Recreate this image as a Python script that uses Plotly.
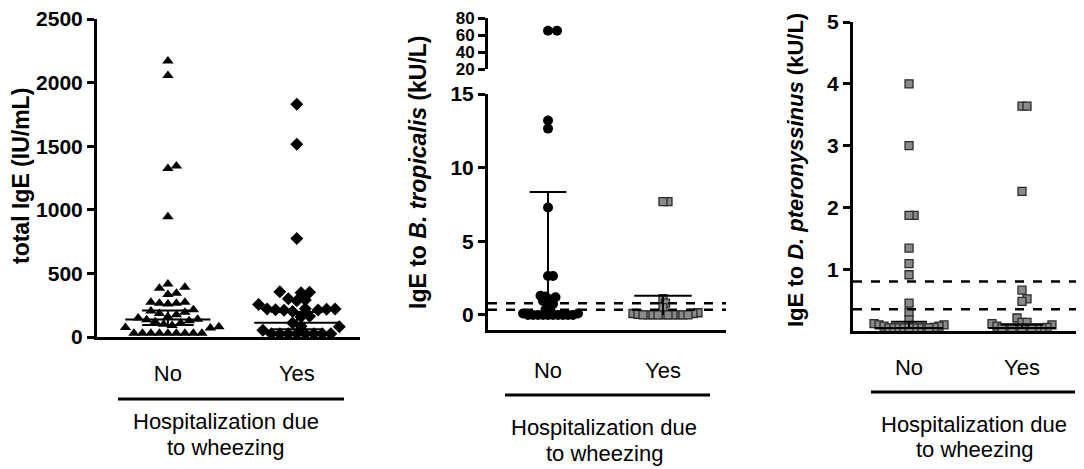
import numpy as np
import plotly.graph_objects as go

# ---- data ----
groups = ["No", "Yes"]

# total IgE (IU/mL)
total_no = [2170, 2055, 1345, 1325, 945, 417, 391, 383, 344, 334, 274, 274, 266, 266,
            260, 215, 205, 195, 185, 175, 160, 150, 140, 135, 128, 120, 110, 100, 90,
            80, 75, 70, 30, 30, 30, 30, 30, 30, 30, 30, 30]
total_yes = [1830, 1515, 775, 355, 352, 348, 300, 290, 285, 256, 222, 220, 220, 218,
             215, 212, 210, 200, 163, 160, 111, 85, 80, 54, 25, 25, 25, 25, 25, 25, 25, 25]
total_median = [137, 112]
total_q1 = [95, 60]
total_q3 = [208, 196]

# IgE to B. tropicalis (kU/L)
trop_no = [65, 65, 13.2, 12.65, 7.3, 2.65, 2.65, 1.3, 1.25, 1.2, 1.05, 0.95, 0.75, 0.75,
           0.35, 0.3, 0.1, 0.1, 0, 0, 0, 0, 0, 0, 0, 0, 0, 0]
trop_yes = [7.7, 7.7, 1.1, 0.8, 0.5, 0.15, 0.1, 0.1, 0.05, 0, 0, 0, 0, 0, 0, 0, 0, 0, 0]
trop_median = [0, 0]
trop_upper = [8.35, 1.3]

# IgE to D. pteronyssinus (kU/L)
derp_no = [4.0, 3.0, 1.87, 1.87, 1.34, 1.09, 0.91, 0.45, 0.3, 0.18, 0.12, 0.1, 0.1,
           0.08, 0.08, 0.06, 0.05, 0.05, 0.05, 0.05, 0.05, 0.05, 0.05, 0.05, 0.05]
derp_yes = [3.64, 3.64, 2.26, 0.66, 0.52, 0.48, 0.21, 0.14, 0.14, 0.12, 0.1, 0.08, 0.06,
            0.05, 0.05, 0.05, 0.05, 0.05, 0.05, 0.05, 0.05, 0.05]
derp_median = [0.05, 0.05]
derp_upper = [0.15, 0.1]

cutoffs = [0.35, 0.8]

# page body keeps an 8px margin, so the figure is drawn 8px smaller and shifted
OFF = 8
W, H = 1084 - OFF, 469 - OFF
FONT = "Liberation Sans"
GREY = "#8a8a8a"


def px(x):
    return (x - OFF) / W


def py(y):
    return 1 - (y - OFF) / H


def swarm(values, ppu_y, ppu_x, gap):
    # simple beeswarm: spread points sideways until they stop colliding
    vals = np.asarray(values, float)
    offs = np.zeros(len(vals))
    placed = []
    step = gap / 2
    for idx in np.argsort(vals):
        yy = vals[idx] * ppu_y
        k = 0
        while True:
            m = (k + 1) // 2 * (1 if k % 2 else -1)
            xx = m * step
            if all((xx - qx) ** 2 + (yy - qy) ** 2 >= gap ** 2 for qx, qy in placed):
                break
            k += 1
        placed.append((xx, yy))
        offs[idx] = xx / ppu_x
    return offs


def points(vals, center, ppu_y, ppu_x, gap, xa, ya, symbol, size, color, line):
    vals = np.asarray(vals, float)
    return go.Scatter(
        x=center + swarm(vals, ppu_y, ppu_x, gap), y=vals, mode="markers",
        xaxis=xa, yaxis=ya, cliponaxis=False, hoverinfo="y",
        marker=dict(symbol=symbol, size=size, color=color, line=line))


def summary(center, med, lo, hi, half_med, half_cap, xa, ya, caps_low=True):
    x = [center - half_med, center + half_med, None,
         center - half_cap, center + half_cap, None, center, center]
    y = [med, med, None, hi, hi, None, lo, hi]
    if caps_low:
        x += [None, center - half_cap, center + half_cap]
        y += [None, lo, lo]
    return go.Scatter(x=x, y=y, mode="lines", xaxis=xa, yaxis=ya, cliponaxis=False,
                      line=dict(color="black", width=2), hoverinfo="skip")


fig = go.Figure()
sq_line = dict(color="#2b2b2b", width=1.3)

# panel 1
P1_TOP = 19
ppu1 = (337 - P1_TOP) / 2500
fig.add_trace(points(total_no, 1, ppu1, 129, 8.5, "x", "y", "triangle-up", 10, "black", dict(width=0)))
fig.add_trace(points(total_yes, 2, ppu1, 129, 8.5, "x", "y", "diamond", 10, "black", dict(width=0)))
for i in range(2):
    fig.add_trace(summary(i + 1, total_median[i], total_q1[i], total_q3[i], 0.33, 0.2, "x", "y"))

# panel 2 (broken axis: lower 0-15, upper 20-80)
lo_no = [v for v in trop_no if v <= 15]
hi_no = [v for v in trop_no if v > 15]
fig.add_trace(points(lo_no, 1, 221 / 15, 115, 5, "x2", "y2", "circle", 10, "black", dict(width=0)))
fig.add_trace(points(hi_no, 1, 0.85, 115, 9, "x2", "y3", "circle", 10, "black", dict(width=0)))
fig.add_trace(points(trop_yes, 2, 221 / 15, 115, 5, "x2", "y2", "square", 8, GREY, sq_line))
fig.add_trace(summary(1, trop_median[0], trop_median[0], trop_upper[0], 0.0, 0.16, "x2", "y2", False))
fig.add_trace(summary(2, trop_median[1], trop_median[1], trop_upper[1], 0.0, 0.25, "x2", "y2", False))

# panel 3
fig.add_trace(points(derp_no, 1, 61.8, 113, 5, "x3", "y4", "square", 8, GREY, sq_line))
fig.add_trace(points(derp_yes, 2, 61.8, 113, 5, "x3", "y4", "square", 8, GREY, sq_line))
fig.add_trace(summary(1, derp_median[0], derp_median[0], derp_upper[0], 0.3, 0.16, "x3", "y4", False))
fig.add_trace(summary(2, derp_median[1], derp_median[1], derp_upper[1], 0.3, 0.19, "x3", "y4", False))

tick_font = dict(family=FONT, size=21, color="black", weight="bold")
cat_font = dict(family=FONT, size=22, color="black")
y_common = dict(showline=True, linewidth=3, linecolor="black", ticks="outside", ticklen=7,
                tickwidth=3, tickcolor="black", showgrid=False, zeroline=False,
                automargin=False, ticklabeloverflow="allow")
x_common = dict(showline=True, linewidth=3, linecolor="black", ticks="", showgrid=False,
                zeroline=False, tickvals=[1, 2], ticktext=groups, tickfont=cat_font,
                automargin=False, ticklabeloverflow="allow")

fig.update_layout(
    width=W, height=H, margin=dict(l=0, r=0, t=0, b=0, autoexpand=False),
    template="none", plot_bgcolor="white", paper_bgcolor="white", showlegend=False,
    xaxis=dict(domain=[px(97), px(360)], range=[0.45, 2.49], anchor="y",
               ticklabelstandoff=15, **x_common),
    yaxis=dict(domain=[py(337), py(P1_TOP)], range=[0, 2500], anchor="x",
               tickvals=[0, 500, 1000, 1500, 2000, 2500], tickfont=tick_font, **y_common),
    xaxis2=dict(domain=[px(488), px(726)], range=[0.478, 2.548], anchor="y2",
                ticklabelstandoff=19, **x_common),
    yaxis2=dict(domain=[py(330), py(94)], range=[-1.02, 15], anchor="x2",
                tickvals=[0, 5, 10, 15], tickfont=tick_font, **y_common),
    yaxis3=dict(domain=[py(69), py(18)], range=[20, 80], anchor="x2",
                tickvals=[20, 40, 60, 80], tickfont=dict(tick_font, size=17), **y_common),
    xaxis3=dict(domain=[px(853), px(1084)], range=[0.504, 2.549], anchor="y4",
                ticklabelstandoff=15, **x_common),
    yaxis4=dict(domain=[py(331), py(22)], range=[0, 5], anchor="x3",
                tickvals=[1, 2, 3, 4, 5], tickfont=tick_font, **y_common),
)

# cut-off lines
for xa, ya in [("x2", "y2"), ("x3", "y4")]:
    for c in cutoffs:
        fig.add_shape(type="line", xref=f"{xa} domain", yref=ya, x0=0, x1=1, y0=c, y1=c,
                      line=dict(color="black", width=2.5, dash="dash"))

# y-axis titles
titles = [
    ("total IgE (IU/mL)", 21, 176, 23),
    ("IgE to <i>B. tropicalis</i> (kU/L)", 418, 172, 23),
    ("IgE to <i>D. pteronyssinus</i> (kU/L)", 795, 170, 22),
]
for text, x, y, size in titles:
    fig.add_annotation(text=text, x=px(x), y=py(y), xref="paper", yref="paper",
                       textangle=-90, showarrow=False, xanchor="center", yanchor="middle",
                       font=dict(family=FONT, size=size, color="black", weight="bold"))

# group bracket + caption under each panel
captions = [(118, 344, 399, 226, 421, 447), (505, 710, 395, 604, 427, 453),
            (871, 1075, 392, 974, 424, 449)]
for x0, x1, yr, xc, y1, y2 in captions:
    fig.add_shape(type="line", xref="paper", yref="paper", x0=px(x0), x1=px(x1),
                  y0=py(yr), y1=py(yr), line=dict(color="black", width=3))
    for txt, yy in [("Hospitalization due", y1), ("to wheezing", y2)]:
        fig.add_annotation(text=txt, x=px(xc), y=py(yy), xref="paper", yref="paper",
                           showarrow=False, xanchor="center", yanchor="middle",
                           font=dict(family=FONT, size=22, color="black"))

fig.write_html("out.html")
